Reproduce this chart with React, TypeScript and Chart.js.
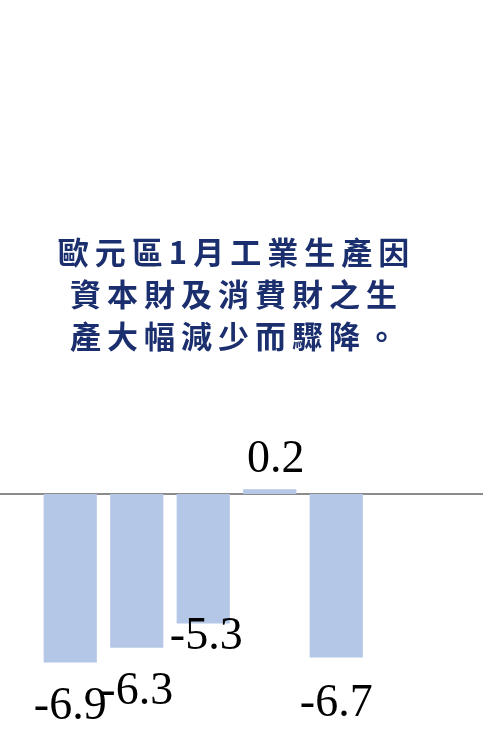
import React, { useEffect, useRef } from "react";
import { Chart, registerables } from "chart.js";

Chart.register(...registerables);

const categories: string[] = ["A", "B", "C", "D", "E", ""];
const values: (number | null)[] = [-6.9, -6.3, -5.3, 0.2, -6.7, null];
const valueLabels: string[] = ["-6.9", "-6.3", "-5.3", "0.2", "-6.7", ""];
const titleLines: string[] = [
  "歐元區1月工業生產因",
  "資本財及消費財之生",
  "產大幅減少而驟降。",
];

const BAR_COLOR = "#b4c7e7";
const TITLE_COLOR = "#1b2f6e";

const letterSpacingPlugin = {
  id: "letterSpacingTitle",
  beforeDraw(chart: any) {
    (chart.ctx as any).letterSpacing = "6px";
  },
  beforeDatasetsDraw(chart: any) {
    (chart.ctx as any).letterSpacing = "0px";
  },
};

const zeroLinePlugin = {
  id: "zeroLine",
  beforeDatasetsDraw(chart: any) {
    const ctx = chart.ctx;
    const y = chart.scales.y.getPixelForValue(0);
    ctx.save();
    ctx.strokeStyle = "#8c8c8c";
    ctx.lineWidth = 2;
    ctx.beginPath();
    ctx.moveTo(0, y);
    ctx.lineTo(chart.width, y);
    ctx.stroke();
    ctx.restore();
  },
};

const valueLabelPlugin = {
  id: "valueLabels",
  afterDatasetsDraw(chart: any, _args: any, opts: any) {
    const ctx = chart.ctx;
    const meta = chart.getDatasetMeta(0);
    ctx.save();
    (ctx as any).letterSpacing = "0px";
    ctx.font = opts.font;
    ctx.fillStyle = opts.color;
    ctx.textAlign = "center";
    ctx.textBaseline = "alphabetic";
    meta.data.forEach((bar: any, i: number) => {
      if (values[i] === null || !opts.labels[i]) return;
      const dx = opts.dx[i] || 0;
      const dy = opts.dy[i] || 0;
      ctx.fillText(opts.labels[i], bar.x + dx, bar.y + dy);
    });
    ctx.restore();
  },
};

export default function App() {
  const canvasRef = useRef<HTMLCanvasElement | null>(null);

  useEffect(() => {
    document.body.style.margin = "0";
    const canvas = canvasRef.current;
    if (!canvas) return;
    const chart = new Chart(canvas, {
      type: "bar",
      data: {
        labels: categories,
        datasets: [
          {
            data: values,
            backgroundColor: BAR_COLOR,
            borderWidth: 0,
            barPercentage: 0.8,
            categoryPercentage: 1,
          },
        ],
      },
      options: {
        animation: false,
        responsive: false,
        maintainAspectRatio: false,
        layout: { padding: { left: 37, right: 47, top: 0, bottom: 0 } },
        scales: {
          x: { display: false },
          y: { display: false, min: -9.75, max: 5 },
        },
        plugins: {
          legend: { display: false },
          tooltip: { enabled: false },
          title: {
            display: true,
            text: titleLines,
            color: TITLE_COLOR,
            font: {
              family: "'Noto Sans CJK TC', 'Noto Sans CJK SC', sans-serif",
              size: 31,
              weight: "bold",
              lineHeight: 42 / 31,
            },
            padding: { top: 231, bottom: 15 },
          },
          valueLabels: {
            labels: valueLabels,
            font: "46px 'Liberation Serif', 'Times New Roman', serif",
            color: "#000000",
            dx: [0, 0, 3, 6, 0, 0],
            dy: [57, 56, 26, -17, 58, 0],
          },
        } as any,
      },
      plugins: [letterSpacingPlugin, zeroLinePlugin, valueLabelPlugin],
    });
    return () => chart.destroy();
  }, []);

  return (
    <div style={{ width: 483, height: 732 }}>
      <canvas ref={canvasRef} width={483} height={732} style={{ display: "block" }} />
    </div>
  );
}
